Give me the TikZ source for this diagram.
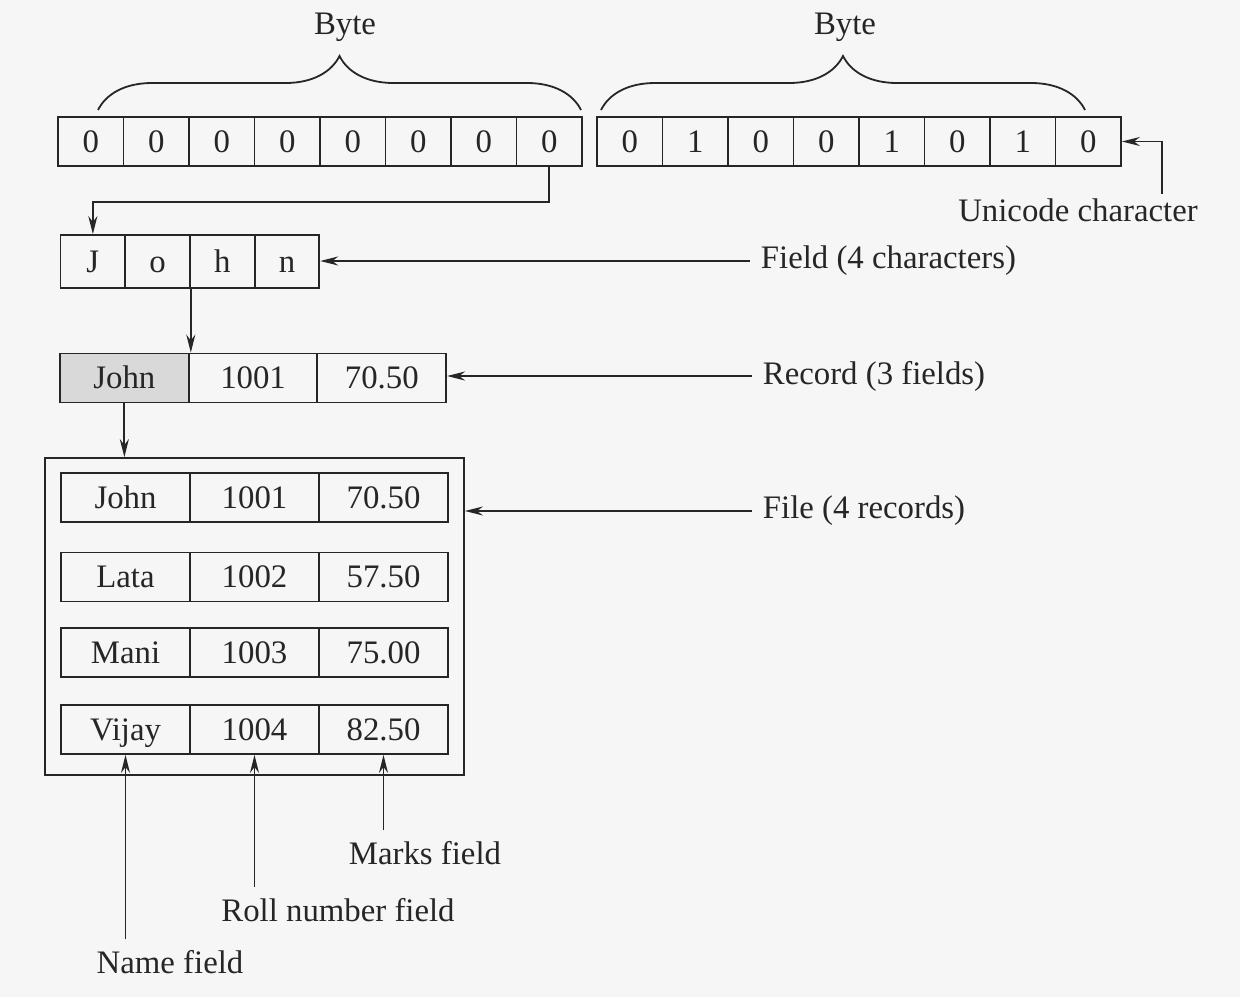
\documentclass[tikz,border=0pt]{standalone}
\usepackage{fontspec}
\setmainfont{Liberation Serif}
\usetikzlibrary{arrows.meta,decorations.pathreplacing}

\begin{document}
\begin{tikzpicture}[x=0.5pt,y=-0.5pt,font=\fontsize{16.4}{19}\selectfont,
  line width=0.9pt,color=black!85,
  bit/.style={draw,inner sep=0pt,text height=11pt,text depth=0.5pt,minimum width=32.75pt,minimum height=24.5pt},
  chr/.style={draw,inner sep=0pt,text height=11pt,text depth=0.5pt,minimum width=32.35pt,minimum height=26.5pt},
  fld/.style={draw,inner sep=0pt,text height=11pt,text depth=0.5pt,minimum width=64.4pt,minimum height=24.5pt},
  lbl/.style={inner sep=5pt},
  arr/.style={-{Stealth[length=9pt,width=4.5pt]}},
  brc/.style={decorate,decoration={brace,amplitude=27pt}}]
  \useasboundingbox (0,0) rectangle (1240,997);
  \fill[gray!7] (0,0) rectangle (1240,997);

  % two bytes of one unicode character
  \node[bit] (a1) at (90.75,141.5) {0};
  \node[bit] (a2) at (156.25,141.5) {0};
  \node[bit] (a3) at (221.75,141.5) {0};
  \node[bit] (a4) at (287.25,141.5) {0};
  \node[bit] (a5) at (352.75,141.5) {0};
  \node[bit] (a6) at (418.25,141.5) {0};
  \node[bit] (a7) at (483.75,141.5) {0};
  \node[bit] (a8) at (549.25,141.5) {0};
  \node[bit] (b1) at (629.75,141.5) {0};
  \node[bit] (b2) at (695.25,141.5) {1};
  \node[bit] (b3) at (760.75,141.5) {0};
  \node[bit] (b4) at (826.25,141.5) {0};
  \node[bit] (b5) at (891.75,141.5) {1};
  \node[bit] (b6) at (957.25,141.5) {0};
  \node[bit] (b7) at (1022.75,141.5) {1};
  \node[bit] (b8) at (1088.25,141.5) {0};
  \draw[brc] (98,110) -- (581,110);
  \draw[brc] (601,110) -- (1085,110);
  \node (byte1) at (345,27) {Byte};
  \node (byte2) at (845,27) {Byte};
  \node[lbl] (unilbl) at (1078,210) {Unicode character};

  % field
  \node[chr] (f1) at (92.85,261.5) {J};
  \node[chr] (f2) at (157.55,261.5) {o};
  \node[chr] (f3) at (222.25,261.5) {h};
  \node[chr] (f4) at (286.95,261.5) {n};
  \node[lbl,anchor=west] (fieldlbl) at (750,261) {Field (4 characters)};

  % record
  \node[fld,fill=gray!30] (rec1) at (124.35,378) {John};
  \node[fld] (rec2) at (253.05,378) {1001};
  \node[fld] (rec3) at (381.75,378) {70.50};
  \node[lbl,anchor=west] (reclbl) at (752,376) {Record (3 fields)};

  % file
  \node[draw,minimum width=209.5pt,minimum height=158.5pt] (file) at (254.5,616.5) {};
  \node[fld] (nm1) at (125.5,497.5) {John};
  \node[fld] (rl1) at (254.5,497.5) {1001};
  \node[fld] (mk1) at (383.5,497.5) {70.50};
  \node[fld] (nm2) at (125.5,577) {Lata};
  \node[fld] (rl2) at (254.5,577) {1002};
  \node[fld] (mk2) at (383.5,577) {57.50};
  \node[fld] (nm3) at (125.5,652.5) {Mani};
  \node[fld] (rl3) at (254.5,652.5) {1003};
  \node[fld] (mk3) at (383.5,652.5) {75.00};
  \node[fld] (nm4) at (125.5,729.5) {Vijay};
  \node[fld] (rl4) at (254.5,729.5) {1004};
  \node[fld] (mk4) at (383.5,729.5) {82.50};
  \node[lbl,anchor=west] (filelbl) at (752,511) {File (4 records)};
  \node[lbl] (markslbl) at (425,853) {Marks field};
  \node[lbl] (rolllbl) at (338,910) {Roll number field};
  \node[lbl] (namelbl) at (170,962) {Name field};

  % connectors
  \draw[arr] (a8.south) -- ++(0,35) -| (f1.north);
  \coordinate (uc) at (1162,194);
  \draw[arr] (uc) |- (b8.east);
  \draw[arr] (fieldlbl.west) -- (fieldlbl.west -| f4.east);
  \draw[arr] (f2.south east) -- (f2.south east |- rec1.north);
  \draw[arr] (reclbl.west) -- (reclbl.west -| rec3.east);
  \draw[arr] (rec1.south) -- (rec1.south |- file.north);
  \draw[arr] (filelbl.west) -- (filelbl.west -| file.east);
  \draw[arr] (mk4.south |- markslbl.north) -- (mk4.south);
  \draw[arr] (rl4.south |- rolllbl.north) -- (rl4.south);
  \draw[arr] (nm4.south |- namelbl.north) -- (nm4.south);
\end{tikzpicture}
\end{document}
